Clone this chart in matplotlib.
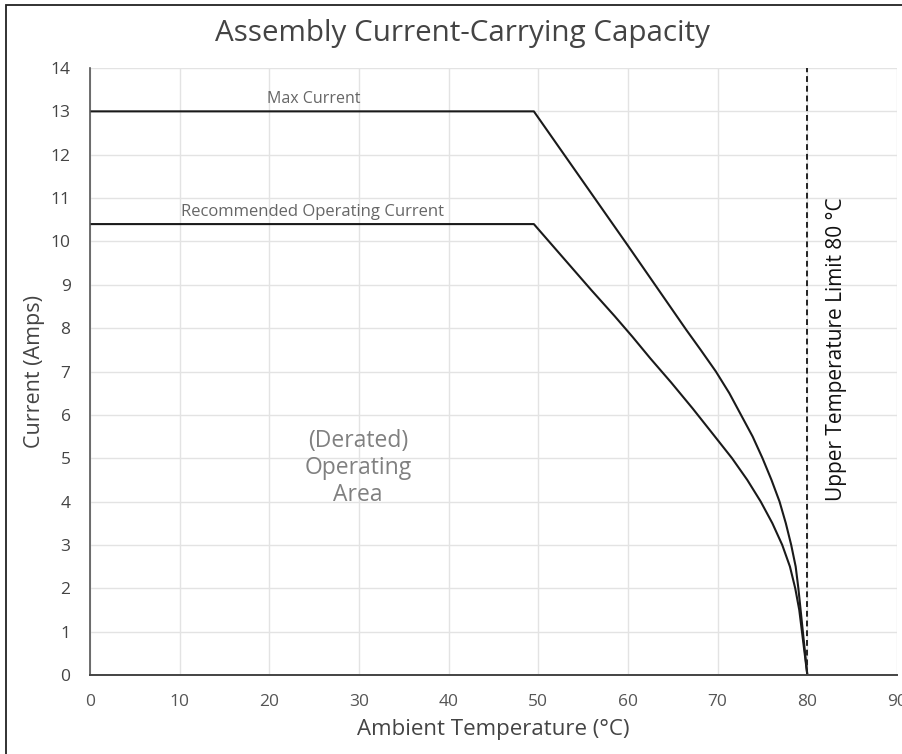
import matplotlib
matplotlib.use("Agg")
import matplotlib.pyplot as plt
from matplotlib.patches import Rectangle

# Data
max_temp = [0, 49.5, 60, 66.5, 68.1, 69.8, 71.3, 72.6, 73.9, 75.0, 76.0, 76.9, 77.6, 78.2, 78.7, 79.0, 79.25, 79.5, 79.75, 80]
max_curr = [13.0, 13.0, 9.9, 7.96, 7.5, 7.0, 6.5, 6.0, 5.5, 5.0, 4.5, 4.0, 3.5, 3.0, 2.5, 2.0, 1.5, 1.0, 0.5, 0.0]
rec_temp = [0, 49.5, 55.9, 58.5, 60.5, 62.5, 64.8, 67.2, 69.5, 71.6, 73.3, 74.8, 76.1, 77.2, 78.06, 78.65, 79.1, 79.4, 79.7, 80]
rec_curr = [10.4, 10.4, 8.88, 8.28, 7.8, 7.3, 6.75, 6.15, 5.55, 5.0, 4.5, 4.0, 3.5, 3.0, 2.5, 2.0, 1.5, 1.0, 0.5, 0.0]
limit_temp = 80
x_ticks = list(range(0, 91, 10))
y_ticks = list(range(0, 15))

fig = plt.figure(figsize=(9.03, 7.54), dpi=100)
ax = fig.add_axes([90/903, 1-675/754, (897-90)/903, (675-68)/754])

ax.plot(max_temp, max_curr, color="#1a1a1a", lw=1.5, solid_joinstyle="round")
ax.plot(rec_temp, rec_curr, color="#1a1a1a", lw=1.5, solid_joinstyle="round")
ax.plot([limit_temp, limit_temp], [0, 14], color="#222222", lw=1.4, ls=(0, (3, 2)))

ax.set_xlim(0, 90)
ax.set_ylim(0, 14)
ax.set_xticks(x_ticks)
ax.set_yticks(y_ticks)
ax.grid(True, color="#e3e3e3", lw=1.0)
ax.set_axisbelow(True)
for s in ["top", "right"]:
    ax.spines[s].set_visible(False)
ax.spines["left"].set_color("#555555")
ax.spines["left"].set_linewidth(1.2)
ax.spines["bottom"].set_color("#444444")
ax.spines["bottom"].set_linewidth(1.4)
ax.tick_params(axis="x", length=0, pad=14)
ax.tick_params(axis="y", length=0, pad=14)
for lbl in ax.get_xticklabels():
    lbl.set_family(["Open Sans", "DejaVu Sans"])
    lbl.set_fontsize(12.5)
    lbl.set_color("#555555")
for lbl in ax.get_yticklabels():
    lbl.set_family(["Open Sans", "DejaVu Sans"])
    lbl.set_fontsize(12.5)
    lbl.set_color("#444444")

ax.set_xlabel("Ambient Temperature (°C)", family=["Open Sans", "DejaVu Sans"],
              fontsize=16, color="#444444", labelpad=6)
ax.set_ylabel("Current (Amps)", family=["Open Sans", "DejaVu Sans"], fontsize=15.5,
              color="#444444", labelpad=4)

fig.text(0.512, 1-33/754, "Assembly Current-Carrying Capacity", ha="center", va="center",
         family=["Open Sans", "DejaVu Sans"], fontsize=21.3, color="#444444")

ax.text(24.9, 13.1, "Max Current", ha="center", va="bottom", fontsize=11.5,
        family=["Open Sans", "DejaVu Sans"], color="#666666")
ax.text(24.8, 10.5, "Recommended Operating Current", ha="center", va="bottom", fontsize=12,
        family=["Open Sans", "DejaVu Sans"], color="#666666")
ax.text(29.9, 4.77, "(Derated)\nOperating\nArea", ha="center", va="center", fontsize=16.5,
        family=["Open Sans", "DejaVu Sans"], color="#808080", linespacing=1.15)
ax.text(83.2, 7.52, "Upper Temperature Limit 80 °C", rotation=90, ha="center", va="center",
        fontsize=15, family=["Open Sans", "DejaVu Sans"], color="#111111")

fig.patches.append(Rectangle((6/903, -0.1), 1.2, 1 - 5/754 + 0.1, transform=fig.transFigure,
                             fill=False, edgecolor="#222222", lw=1.3))

fig.savefig("out.png", dpi=100)
